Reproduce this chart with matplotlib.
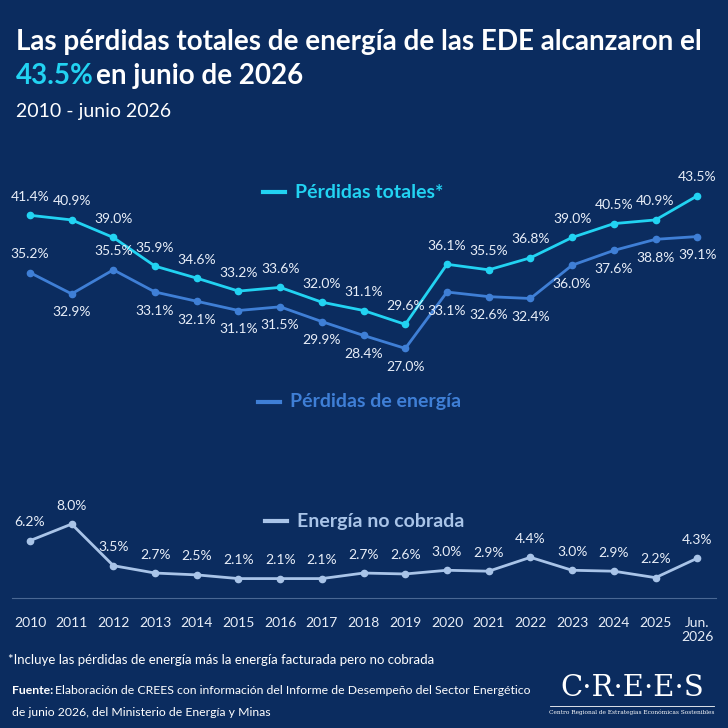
import matplotlib
matplotlib.use("Agg")
import matplotlib.pyplot as plt

years = ["2010","2011","2012","2013","2014","2015","2016","2017","2018","2019","2020","2021","2022","2023","2024","2025","Jun.\n2026"]
totales = [41.4,40.9,39.0,35.9,34.6,33.2,33.6,32.0,31.1,29.6,36.1,35.5,36.8,39.0,40.5,40.9,43.5]
perdidas = [35.2,32.9,35.5,33.1,32.1,31.1,31.5,29.9,28.4,27.0,33.1,32.6,32.4,36.0,37.6,38.8,39.1]
no_cobrada = [6.2,8.0,3.5,2.7,2.5,2.1,2.1,2.1,2.7,2.6,3.0,2.9,4.4,3.0,2.9,2.2,4.3]
perd_above = [True,False,True]+[False]*14

BG = "#0b2c5f"
C1, C2, C3 = "#22d3f2", "#3f7fd6", "#a9c4e8"
plt.rcParams['font.family'] = ['Lato', 'DejaVu Sans']

fig = plt.figure(figsize=(7.28, 7.28), dpi=100, facecolor=BG)
ax = fig.add_axes([12/728, 130/728, 704/728, 428/728])
ax.set_facecolor(BG)
x = list(range(len(years)))
ax.plot(x, totales, color=C1, lw=2, marker="o", ms=4.5)
ax.plot(x, perdidas, color=C2, lw=2, marker="o", ms=4.5)
ax.plot(x, no_cobrada, color=C3, lw=2, marker="o", ms=4.5)
ax.set_xlim(-0.43, 16.45)
ax.set_ylim(0, 46.3)
for i in x:
    ax.annotate(f"{totales[i]:.1f}%", (i, totales[i]), xytext=(0, 9), textcoords="offset points",
                ha="center", va="bottom", color="#e8eef8", fontsize=10)
    ax.annotate(f"{perdidas[i]:.1f}%", (i, perdidas[i]), xytext=(0, 9 if perd_above[i] else -9),
                textcoords="offset points", ha="center", va="bottom" if perd_above[i] else "top",
                color="#e8eef8", fontsize=10)
    ax.annotate(f"{no_cobrada[i]:.1f}%", (i, no_cobrada[i]), xytext=(0, 9), textcoords="offset points",
                ha="center", va="bottom", color="#e8eef8", fontsize=10)
ax.set_xticks(x)
ax.set_xticklabels(years, color="#e8eef8", fontsize=10, va="top")
ax.tick_params(axis="x", length=0, pad=14)
ax.set_yticks([])
for s in ["top", "right", "left"]:
    ax.spines[s].set_visible(False)
ax.spines["bottom"].set_color("#4a6894")
ax.spines["bottom"].set_linewidth(0.8)

def leg(xp, yp, color, label):
    fig.lines.append(plt.Line2D([xp/728, (xp+22)/728], [1-yp/728]*2, color=color, lw=3, transform=fig.transFigure))
    fig.text((xp+32)/728, 1-yp/728, label, color=color, fontsize=14, fontweight="bold", va="center")
leg(263, 192, C1, "Pérdidas totales*")
leg(258, 402, C2, "Pérdidas de energía")
leg(265, 521, C3, "Energía no cobrada")

fig.text(16/728, 1-42/728, "Las pérdidas totales de energía de las EDE alcanzaron el", color="white",
         fontsize=20, fontweight="bold", va="center")
fig.text(16/728, 1-76/728, "43.5%", color=C1, fontsize=20, fontweight="bold", va="center")
fig.text(96/728, 1-76/728, "en junio de 2026", color="white", fontsize=20, fontweight="bold", va="center")
fig.text(16/728, 1-112/728, "2010 - junio 2026", color="white", fontsize=14, va="center")
fig.text(8/728, 1-660/728, "*Incluye las pérdidas de energía más la energía facturada pero no cobrada",
         color="white", fontsize=9.5, va="center")
fig.text(12/728, 1-690/728, "Fuente:", color="white", fontsize=8.8, fontweight="bold", va="center")
fig.text(55/728, 1-690/728, "Elaboración de CREES con información del Informe de Desempeño del Sector Energético",
         color="white", fontsize=8.8, va="center")
fig.text(12/728, 1-712/728, "de junio 2026, del Ministerio de Energía y Minas", color="white", fontsize=8.8, va="center")
fig.text(632/728, 1-688/728, "C·R·E·E·S", color="white", fontsize=21, family="DejaVu Serif", ha="center", va="center")
fig.text(632/728, 1-712/728, "Centro Regional de Estrategias Económicas Sostenibles", color="white",
         fontsize=4.2, family="DejaVu Serif", ha="center", va="center")
fig.lines.append(plt.Line2D([550/728, 714/728], [1-706/728]*2, color="white", lw=0.6, transform=fig.transFigure))
fig.savefig("out.png", dpi=100, facecolor=BG)
